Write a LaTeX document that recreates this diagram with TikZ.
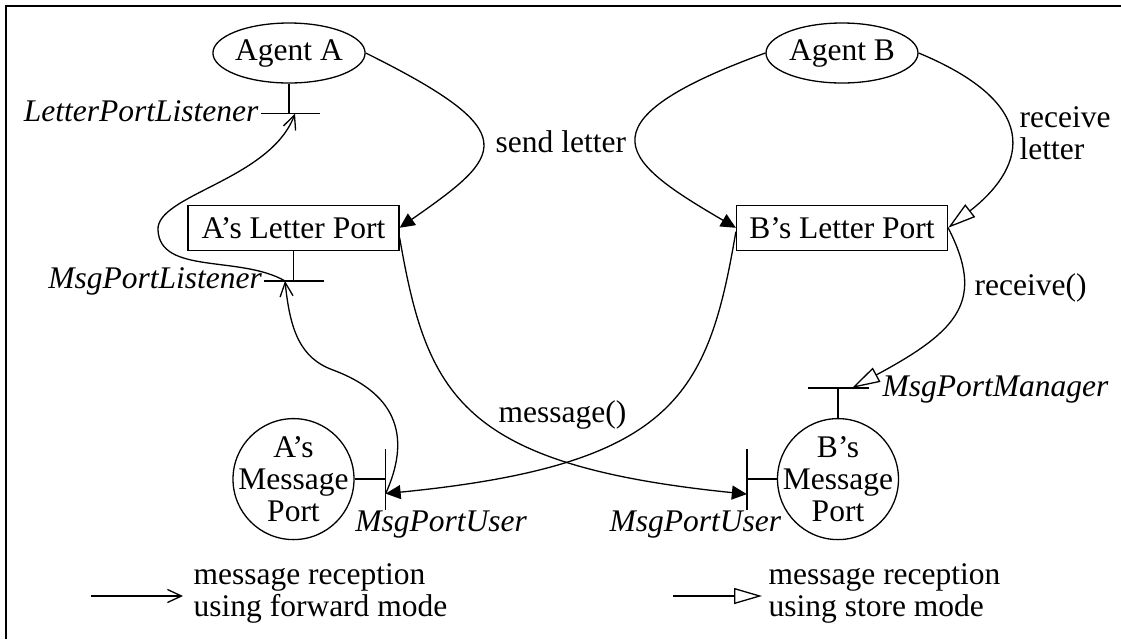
\documentclass[tikz,border=0pt]{standalone}
\usepackage{fontspec}
\setmainfont{Liberation Serif}
\usetikzlibrary{positioning,shapes.geometric,arrows.meta}

\newcommand{\portfont}{\fontsize{15.75pt}{16pt}\selectfont}

\tikzstyle{agent} = [ellipse,
                     minimum width=76pt,
                     minimum height=30pt,
                     inner sep=0pt,
                     draw=black]
\tikzstyle{letterport} = [rectangle,
                          minimum width=105.5pt,
                          minimum height=22.5pt,
                          inner sep=0pt,
                          draw=black]
\tikzstyle{msgport} = [circle,
                       minimum size=60.5pt,
                       inner sep=0pt,
                       draw=black]
\tikzstyle{iface} = [font=\portfont\itshape, inner sep=0pt]
\tikzstyle{caption} = [inner sep=0pt, align=left]
\tikzstyle{forward} = [-{Straight Barb[length=7pt,width=6.5pt]}]
\tikzstyle{store} = [-{Triangle[open,length=14pt,width=8pt]}]
\tikzstyle{call} = [-{Triangle[length=7.5pt,width=7pt]}]

\begin{document}
\begin{tikzpicture}[x=0.5pt, y=-0.5pt, line width=0.65pt, font=\portfont, node distance=60.5pt]
\useasboundingbox (0,0) rectangle (1121,639);
\draw (6,639) -- (6,6) -- (1121,6);

% agents, letter ports, message ports
\node (agA) [agent] at (289,53) {Agent A};
\node (agB) [agent] at (842,53) {Agent B};
\node (lpA) [letterport, below=of agA, xshift=2.25pt] {A’s Letter Port};
\node (lpB) [letterport, below=of agB] {B’s Letter Port};
\node (mpA) [msgport, below=83.5pt of lpA, label={[align=center]center:A’s\\Message\\Port}] {};
\node (mpB) [msgport, below=83.5pt of lpB, xshift=-2pt, label={[align=center]center:B’s\\Message\\Port}] {};

% interfaces
\coordinate (lpl) at ([yshift=-15pt]agA.south);
\draw (agA.south) -- (lpl);
\draw ([xshift=-14pt]lpl) -- ([xshift=15.5pt]lpl);
\coordinate (mpl) at ([yshift=-15pt]lpA.south);
\draw (lpA.south) -- (mpl);
\draw ([xshift=-15pt]mpl) -- ([xshift=15pt]mpl);
\coordinate (userA) at ([xshift=15.5pt]mpA.east);
\draw (mpA.east) -- (userA);
\draw ([yshift=15pt]userA) -- ([yshift=-15.5pt]userA);
\coordinate (userB) at ([xshift=-15pt]mpB.west);
\draw (mpB.west) -- (userB);
\draw ([yshift=15pt]userB) -- ([yshift=-15.5pt]userB);
\coordinate (mpm) at ([yshift=15pt]mpB.north);
\draw (mpB.north) -- (mpm);
\draw ([xshift=-15pt]mpm) -- ([xshift=15.5pt]mpm);

\node (lplName) [iface, anchor=base east] at ([xshift=-15pt, yshift=-4pt]lpl) {LetterPortListener};
\node (mplName) [iface, anchor=base east] at ([xshift=-15.5pt, yshift=-4pt]mpl) {MsgPortListener};
\node (userAName) [iface, anchor=base west] at ([xshift=-15.5pt, yshift=-26pt]userA) {MsgPortUser};
\node (userBName) [iface, anchor=base east] at ([xshift=17.5pt, yshift=-26pt]userB) {MsgPortUser};
\node (mpmName) [iface, anchor=base west] at ([xshift=22pt, yshift=-4.5pt]mpm) {MsgPortManager};

% calls
\draw[call] (agA.east) .. controls (527,133) and (504,155) .. (lpA.east);
\draw[call] (agB.west) .. controls (570,124) and (627,164) .. (lpB.west);
\draw[store] (agB.east) .. controls (1051,108) and (1020,172) .. (lpB.east);
\draw[store] (lpB.east) .. controls (985,300) and (960,330) .. ([xshift=7pt]mpm);
\draw[call] ([yshift=-5pt]lpA.east) .. controls (427,395) and (460,465) .. ([yshift=-7.5pt]userB);
\draw[call] ([yshift=-2pt]lpB.west) .. controls (708,395) and (675,465) .. ([yshift=-7.25pt]userA);

% forwarding back up to agent A
\draw[forward] ([yshift=-7.25pt]userA) .. controls (410,440) and (400,395) .. (333,370)
  .. controls (300,358) and (290,330) .. ([xshift=-4.25pt]mpl);
\draw[forward] ([xshift=-4.25pt]mpl) .. controls (240,255) and (160,275) .. (158,230)
  .. controls (156,195) and (270,180) .. ([xshift=3pt]lpl);

\node (sendLbl) [anchor=base west, inner sep=0pt] at (495,152) {send letter};
\node (recvLetterLbl) [caption, anchor=west] at (1019,133) {receive\\letter};
\node (recvLbl) [anchor=base west, inner sep=0pt] at (974,295) {receive()};
\node (msgLbl) [anchor=base west, inner sep=0pt] at (498,422) {message()};

% legend
\node (fwdText) [caption, anchor=west, inner xsep=5pt] at (183,593) {message reception\\using forward mode};
\coordinate (fwdFrom) at (91,596);
\draw[forward] (fwdFrom) -- (fwdFrom -| fwdText.west);
\node (storeText) [caption, anchor=west, inner xsep=3pt] at (762,593) {message reception\\using store mode};
\coordinate (storeFrom) at (673,596);
\draw[store] (storeFrom) -- (storeFrom -| storeText.west);
\end{tikzpicture}
\end{document}
